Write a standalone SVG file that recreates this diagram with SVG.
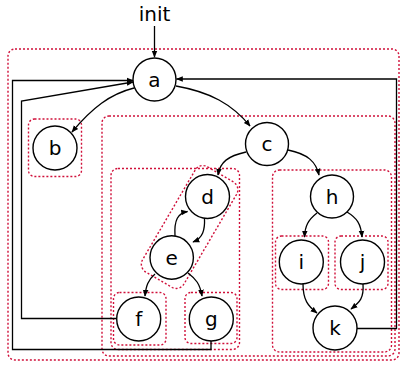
<svg xmlns="http://www.w3.org/2000/svg" width="401" height="366" viewBox="0 0 401 366">
<defs>
<marker id="arr" viewBox="0 0 10 10" refX="9" refY="5" markerWidth="7" markerHeight="7" orient="auto" markerUnits="userSpaceOnUse">
<path d="M0,1 L10,5 L0,9 Z" fill="#000"/>
</marker>
</defs>
<style>
.box{fill:none;stroke:#d0103a;stroke-width:1.4;stroke-dasharray:2,2}
.node circle{fill:#fff;stroke:#000;stroke-width:1.4}
.node text,.lbl{font-family:"DejaVu Sans","Liberation Sans",sans-serif;font-size:20px;fill:#000;text-anchor:middle}
.edge{fill:none;stroke:#000;stroke-width:1.3;marker-end:url(#arr)}
</style>
<rect width="401" height="366" fill="#fff"/>
<g id="clusters">
<rect class="box" x="8" y="49" width="391" height="311" rx="7"/>
<rect class="box" x="28.5" y="119" width="53" height="57.5" rx="6"/>
<rect class="box" x="102" y="116" width="293" height="240" rx="7"/>
<rect class="box" x="111" y="168.5" width="128.5" height="181" rx="7"/>
<rect class="box" x="-24" y="-61" width="48" height="122" rx="9" transform="translate(189.6,227) rotate(30.4)"/>
<rect class="box" x="113.5" y="292.5" width="52.5" height="52.5" rx="6"/>
<rect class="box" x="185" y="292.5" width="52" height="51" rx="6"/>
<rect class="box" x="272.5" y="170" width="119" height="182" rx="7"/>
<rect class="box" x="275.5" y="236" width="53" height="53.5" rx="6"/>
<rect class="box" x="335" y="236" width="53" height="53.5" rx="6"/>
</g>
<g id="connectors">
<path class="edge" d="M154.5,26 L154.5,57"/>
<path class="edge" d="M134,88 C110,94 92,108 72,132"/>
<path class="edge" d="M176,86 C210,92 232,104 250,126"/>
<path class="edge" d="M246,152 C228,156 220,162 218,175"/>
<path class="edge" d="M288,150 C308,154 316,162 319,175"/>
<path class="edge" d="M204.5,218 C205,230 203,238 193,242"/>
<path class="edge" d="M175,236 C174,220 178,213 187.5,211.5"/>
<path class="edge" d="M155,274 C148,280 146,286 145,296"/>
<path class="edge" d="M188,273 C196,279 200,284 202,296"/>
<path class="edge" d="M317,213 C308,220 305,226 304.5,237"/>
<path class="edge" d="M347,212 C357,218 361,224 362,237"/>
<path class="edge" d="M303,284 C303,300 308,306 317,313"/>
<path class="edge" d="M363,284 C364,298 360,302 351,309"/>
<path class="edge" d="M357,328.5 L396.5,328.5 L396.5,79 L176.5,79"/>
<path class="edge" d="M116.5,318.5 L21.5,318.5 L21.5,101 L133,82"/>
<path class="edge" d="M211,341 L211,349.5 L12.5,349.5 L12.5,80.5 L133,80.5"/>
</g>
<text class="lbl" x="154.5" y="21">init</text>
<g id="node-a" class="node"><circle cx="154.5" cy="79.5" r="21.5"/><text x="154.5" y="86.5">a</text></g>
<g id="node-b" class="node"><circle cx="55" cy="148" r="22"/><text x="55" y="155">b</text></g>
<g id="node-c" class="node"><circle cx="267" cy="144" r="21.5"/><text x="267" y="151">c</text></g>
<g id="node-d" class="node"><circle cx="207.5" cy="196.5" r="22"/><text x="207.5" y="203.5">d</text></g>
<g id="node-e" class="node"><circle cx="171.7" cy="257.5" r="21.7"/><text x="171.7" y="264.5">e</text></g>
<g id="node-f" class="node"><circle cx="138.7" cy="319" r="22"/><text x="138.7" y="326">f</text></g>
<g id="node-g" class="node"><circle cx="211.3" cy="319" r="22"/><text x="211.3" y="326">g</text></g>
<g id="node-h" class="node"><circle cx="332" cy="196.5" r="21.5"/><text x="332" y="203.5">h</text></g>
<g id="node-i" class="node"><circle cx="301.3" cy="262" r="22"/><text x="301.3" y="269">i</text></g>
<g id="node-j" class="node"><circle cx="362.5" cy="262" r="22"/><text x="362.5" y="269">j</text></g>
<g id="node-k" class="node"><circle cx="335" cy="328" r="22"/><text x="335" y="335">k</text></g>
</svg>
